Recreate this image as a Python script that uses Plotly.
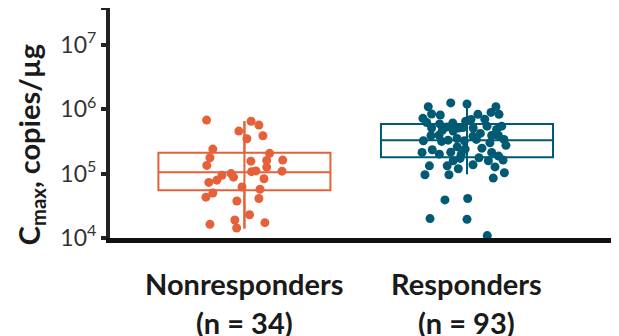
import plotly.graph_objects as go

categories = ["Nonresponders", "Responders"]
n_labels = ["(n = 34)", "(n = 93)"]
colors = ["#E6603A", "#005A73"]

# box statistics (copies/µg)
q1 = [5.5e4, 1.8e5]
median = [1.05e5, 3.3e5]
q3 = [2.1e5, 5.9e5]
lower_whisker = [1.4e4, 9.8e4]
upper_whisker = [6.5e5, 1.07e6]

# individual values and horizontal jitter (category units)
non_values = [6.76e5, 6.5e5, 5.65e5, 4.56e5, 3.86e5, 3.47e5, 2.4e5, 2.06e5, 1.76e5, 1.62e5,
              1.56e5, 1.34e5, 1.26e5, 1.09e5, 1.10e5, 1.07e5, 9.4e4, 8.8e4, 8.3e4, 7.9e4,
              7.3e4, 6.2e4, 5.7e4, 5.0e4, 4.3e4, 4.1e4, 3.75e4, 2.3e4, 1.9e4, 1.63e4,
              1.73e4, 1.43e4, 1.0e5, 1.6e5]
non_jitter = [-0.17, 0.03, 0.065, -0.025, 0.083, 0.011, -0.142, 0.113, -0.155, 0.172,
              0.029, -0.169, 0.1, 0.169, 0.052, 0.032, -0.101, -0.049, 0.088, -0.124,
              -0.16, -0.011, 0.07, -0.142, -0.173, 0.065, -0.034, 0.023, -0.043, -0.155,
              0.092, -0.035, -0.06, 0.1]

resp_values = [1.09e6, 1.25e6, 1.20e6, 1.09e6, 8.4e5, 8.1e5, 8.9e5, 8.3e5, 8.3e5, 7.2e5,
               6.9e5, 7.0e5, 6.2e5, 5.9e5, 6.1e5, 6.5e5, 5.3e5, 5.1e5, 5.1e5, 5.45e5,
               5.45e5, 5.1e5, 4.7e5, 4.56e5, 5.2e5, 4.85e5, 4.2e5, 3.86e5, 3.95e5, 3.9e5,
               3.9e5, 3.78e5, 3.23e5, 3.16e5, 3.3e5, 3.5e5, 3.23e5, 3.39e5, 3.0e5, 3.39e5,
               2.74e5, 2.6e5, 2.4e5, 2.48e5, 2.34e5, 2.13e5, 2.0e5, 2.15e5, 1.99e5, 2.13e5,
               1.87e5, 1.76e5, 1.58e5, 1.62e5, 1.58e5, 1.72e5, 1.32e5, 1.32e5, 1.37e5, 1.27e5,
               1.19e5, 9.6e4, 9.6e4, 1.03e5, 8.5e4, 3.9e4, 4.1e4, 2.0e4, 1.95e4, 1.09e4]
resp_jitter = [-0.174, -0.073, 0.0, 0.13, -0.159, -0.12, 0.108, 0.144, 0.049, -0.198,
               0.018, 0.08, -0.181, -0.123, -0.064, -0.006, -0.09, -0.037, -0.159, 0.09,
               0.156, 0.028, -0.111, -0.062, -0.018, 0.133, 0.06, -0.162, -0.126, 0.111,
               0.141, 0.027, -0.196, -0.114, -0.085, -0.045, -0.012, 0.042, 0.103, 0.166,
               0.175, -0.044, -0.008, 0.067, -0.156, -0.202, -0.124, -0.073, -0.026, 0.111,
               0.142, 0.054, 0.096, 0.162, -0.062, -0.031, -0.169, -0.089, 0.027, 0.126,
               -0.039, -0.189, -0.081, 0.168, 0.118, -0.099, 0.003, -0.166, 0.0, 0.091]

ytick_vals = [1e4, 1e5, 1e6, 1e7, 3.7e7]
ytick_text = ["10<sup>4</sup>", "10<sup>5</sup>", "10<sup>6</sup>", "10<sup>7</sup>", ""]

values = [non_values, resp_values]
jitters = [non_jitter, resp_jitter]

FONT = "Lato"

fig = go.Figure()
for i in range(2):
    fig.add_trace(go.Box(
        x=[i], q1=[q1[i]], median=[median[i]], q3=[q3[i]],
        lowerfence=[lower_whisker[i]], upperfence=[upper_whisker[i]],
        width=0.773, whiskerwidth=0, line=dict(color=colors[i], width=2),
        fillcolor="rgba(0,0,0,0)", boxpoints=False, hoverinfo="skip"))
    fig.add_trace(go.Scatter(
        x=[i, i], y=[lower_whisker[i], upper_whisker[i]], mode="lines",
        line=dict(color=colors[i], width=2), hoverinfo="skip"))
    fig.add_trace(go.Scatter(
        x=[i + j for j in jitters[i]], y=values[i], mode="markers",
        marker=dict(color=colors[i], size=9, line=dict(width=0))))
    fig.add_annotation(x=i, xref="x", y=-0.196, yref="paper", text="<b>%s</b>" % categories[i],
                       showarrow=False, yanchor="middle", xanchor="center",
                       font=dict(family=FONT, size=29, color="#1a1a1a"))
    fig.add_annotation(x=i, xref="x", y=-0.368, yref="paper", text="<b>%s</b>" % n_labels[i],
                       showarrow=False, yanchor="middle", xanchor="center",
                       font=dict(family=FONT, size=29, color="#1a1a1a"))

fig.add_annotation(x=-0.157, xref="paper", y=0.404, yref="paper",
                   text="<b>C<sub>max</sub>, copies/µg</b>", textangle=-90,
                   showarrow=False, xanchor="center", yanchor="middle",
                   font=dict(family=FONT, size=29, color="#1a1a1a"))

fig.update_layout(
    width=611, height=328, showlegend=False,
    paper_bgcolor="white", plot_bgcolor="white",
    margin=dict(l=102, r=0, t=0, b=98),
    xaxis=dict(range=[-0.604, 1.683], showgrid=False, zeroline=False, showticklabels=False,
               showline=True, linewidth=5, linecolor="#111111", ticks=""),
    yaxis=dict(type="log", range=[4, 7.57], showgrid=False, zeroline=False,
               showline=True, linewidth=4, linecolor="#222222",
               ticks="outside", ticklen=5, tickwidth=4, tickcolor="#222222",
               tickvals=ytick_vals, ticktext=ytick_text,
               tickfont=dict(family=FONT, size=23, color="#333333")),
)

fig.write_html("out.html")
